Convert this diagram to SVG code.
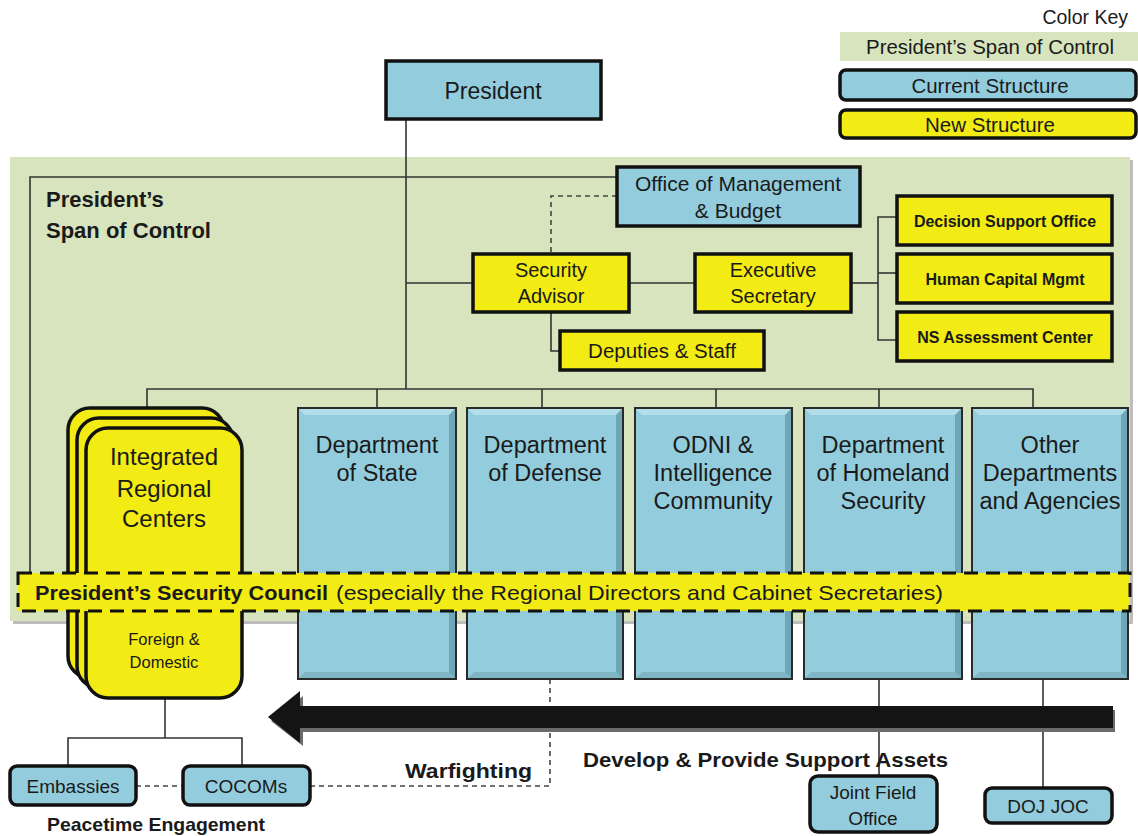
<svg xmlns="http://www.w3.org/2000/svg" width="1138" height="836" viewBox="0 0 1138 836">
<defs>
<style>
text{font-family:"Liberation Sans",Arial,sans-serif;fill:#1a1a1a}
.c{text-anchor:middle}
.b{font-weight:bold}
.blue{fill:#93CDDD;stroke:#111;stroke-width:3.5}
.yel{fill:#F2EB14;stroke:#111;stroke-width:3.5}
.ln{fill:none;stroke:#333;stroke-width:1.6}
.dash{fill:none;stroke:#444;stroke-width:1.6;stroke-dasharray:5 4}
.dept{fill:#93CDDD;stroke:#2a2a2a;stroke-width:2}
.bvl{fill:#B3DDE8}
.bvd{fill:#6FA6B5}
</style>
</defs>
<rect width="1138" height="836" fill="#fff"/>

<!-- color key -->
<g id="key">
<text x="1128" y="24" font-size="19.5" text-anchor="end">Color Key</text>
<rect x="840" y="32" width="298" height="29" fill="#D7E4BD"/>
<text x="990" y="54" font-size="20.4" class="c">President’s Span of Control</text>
<rect x="840" y="70" width="296" height="30" rx="6" class="blue" stroke-width="3"/>
<text x="990" y="93" font-size="20.5" class="c">Current Structure</text>
<rect x="840" y="110" width="296" height="28" rx="6" class="yel" stroke-width="3"/>
<text x="990" y="132" font-size="20.5" class="c">New Structure</text>
</g>

<!-- span of control panel -->
<g id="span">
<rect x="13" y="160" width="1120" height="464" fill="#BDBDBD"/>
<rect x="10" y="157" width="1120" height="464" fill="#D7E4BD"/>
<text x="46" y="207" font-size="22" class="b">President’s</text>
<text x="46" y="238" font-size="22" class="b">Span of Control</text>
</g>

<!-- connectors -->
<g id="connectors">
<polyline class="ln" points="30,572 30,177 617,177"/>
<line class="ln" x1="406" y1="119" x2="406" y2="389"/>
<line class="ln" x1="406" y1="283" x2="473" y2="283"/>
<line class="ln" x1="629" y1="283" x2="695" y2="283"/>
<line class="ln" x1="851" y1="283" x2="878" y2="283"/>
<polyline class="ln" points="897,217 878,217 878,340 897,340"/>
<line class="ln" x1="878" y1="273" x2="897" y2="273"/>
<polyline class="ln" points="551,312 551,351 560,351"/>
<polyline class="dash" points="617,196 551,196 551,254"/>
<polyline class="ln" points="147,408 147,389 1033,389 1033,408"/>
<line class="ln" x1="377" y1="389" x2="377" y2="408"/>
<line class="ln" x1="542" y1="389" x2="542" y2="408"/>
<line class="ln" x1="716" y1="389" x2="716" y2="408"/>
<line class="ln" x1="879" y1="389" x2="879" y2="408"/>
<line class="ln" x1="165" y1="697" x2="165" y2="738"/>
<polyline class="ln" points="68,766 68,738 242,738 242,766"/>
<line class="ln" x1="879" y1="679" x2="879" y2="776"/>
<line class="ln" x1="1043" y1="679" x2="1043" y2="788"/>
<line class="dash" x1="136" y1="786" x2="183" y2="786"/>
<polyline class="dash" points="310,786 550,786 550,679"/>
</g>

<g id="president">
<rect x="386" y="61" width="215" height="58" class="blue"/>
<text x="493" y="99" font-size="23" class="c">President</text>
</g>
<g id="omb">
<rect x="617" y="167" width="243" height="59" class="blue"/>
<text x="738" y="191" font-size="21" class="c">Office of Management</text>
<text x="738" y="218" font-size="21" class="c">&amp; Budget</text>
</g>
<g id="security-advisor">
<rect x="473" y="254" width="156" height="58" class="yel"/>
<text x="551" y="277" font-size="20" class="c">Security</text>
<text x="551" y="303" font-size="20" class="c">Advisor</text>
</g>
<g id="exec-sec">
<rect x="695" y="254" width="156" height="58" class="yel"/>
<text x="773" y="277" font-size="20" class="c">Executive</text>
<text x="773" y="303" font-size="20" class="c">Secretary</text>
</g>
<g id="deputies">
<rect x="560" y="331" width="204" height="39" class="yel"/>
<text x="662" y="358" font-size="20.5" class="c">Deputies &amp; Staff</text>
</g>
<g id="dso">
<rect x="897" y="196" width="215" height="49" class="yel"/>
<text x="1005" y="227" font-size="16" class="c b">Decision Support Office</text>
</g>
<g id="hcm">
<rect x="897" y="254" width="215" height="49" class="yel"/>
<text x="1005" y="285" font-size="16" class="c b">Human Capital Mgmt</text>
</g>
<g id="nsac">
<rect x="897" y="312" width="215" height="49" class="yel"/>
<text x="1005" y="343" font-size="16" class="c b">NS Assessment Center</text>
</g>

<!-- integrated regional centers -->
<g id="irc">
<rect x="68" y="408" width="156" height="270" rx="22" class="yel" stroke-width="3" fill="#E3DC12"/>
<rect x="77" y="418" width="156" height="270" rx="22" class="yel" stroke-width="3" fill="#EAE313"/>
<rect x="86" y="428" width="156" height="270" rx="22" class="yel" stroke-width="3"/>
<text x="164" y="465" font-size="24" class="c">Integrated</text>
<text x="164" y="497" font-size="24" class="c">Regional</text>
<text x="164" y="527" font-size="24" class="c">Centers</text>
<text x="164" y="645" font-size="16.5" class="c">Foreign &amp;</text>
<text x="164" y="668" font-size="16.5" class="c">Domestic</text>
</g>

<!-- departments -->
<g id="dept-state">
<rect x="298" y="408" width="158" height="271" class="dept"/>
<polygon class="bvl" points="299,409 455,409 449,415 305,415"/>
<polygon class="bvd" points="455,409 455,678 449,672 449,415"/>
<polygon class="bvd" points="299,678 455,678 449,672 305,672" opacity="0.6"/>
<text x="377" y="453" font-size="23.5" class="c">Department</text>
<text x="377" y="481" font-size="23.5" class="c">of State</text>
</g>
<g id="dept-defense">
<rect x="467" y="408" width="156" height="271" class="dept"/>
<polygon class="bvl" points="468,409 622,409 616,415 474,415"/>
<polygon class="bvd" points="622,409 622,678 616,672 616,415"/>
<polygon class="bvd" points="468,678 622,678 616,672 474,672" opacity="0.6"/>
<text x="545" y="453" font-size="23.5" class="c">Department</text>
<text x="545" y="481" font-size="23.5" class="c">of Defense</text>
</g>
<g id="odni">
<rect x="635" y="408" width="157" height="271" class="dept"/>
<polygon class="bvl" points="636,409 791,409 785,415 642,415"/>
<polygon class="bvd" points="791,409 791,678 785,672 785,415"/>
<polygon class="bvd" points="636,678 791,678 785,672 642,672" opacity="0.6"/>
<text x="713" y="453" font-size="23.5" class="c">ODNI &amp;</text>
<text x="713" y="481" font-size="23.5" class="c">Intelligence</text>
<text x="713" y="509" font-size="23.5" class="c">Community</text>
</g>
<g id="dhs">
<rect x="804" y="408" width="158" height="271" class="dept"/>
<polygon class="bvl" points="805,409 961,409 955,415 811,415"/>
<polygon class="bvd" points="961,409 961,678 955,672 955,415"/>
<polygon class="bvd" points="805,678 961,678 955,672 811,672" opacity="0.6"/>
<text x="883" y="453" font-size="23.5" class="c">Department</text>
<text x="883" y="481" font-size="23.5" class="c">of Homeland</text>
<text x="883" y="509" font-size="23.5" class="c">Security</text>
</g>
<g id="other">
<rect x="972" y="408" width="156" height="271" class="dept"/>
<polygon class="bvl" points="973,409 1127,409 1121,415 979,415"/>
<polygon class="bvd" points="1127,409 1127,678 1121,672 1121,415"/>
<polygon class="bvd" points="973,678 1127,678 1121,672 979,672" opacity="0.6"/>
<text x="1050" y="453" font-size="23.5" class="c">Other</text>
<text x="1050" y="481" font-size="23.5" class="c">Departments</text>
<text x="1050" y="509" font-size="23.5" class="c">and Agencies</text>
</g>

<!-- security council band -->
<g id="psc">
<rect x="18" y="573" width="1112" height="38" fill="#F2EB14" stroke="#111" stroke-width="3" stroke-dasharray="14 8"/>
<text x="35" y="600" font-size="21" class="b" textLength="293" lengthAdjust="spacingAndGlyphs">President’s Security Council</text>
<text x="336" y="600" font-size="21" textLength="607" lengthAdjust="spacingAndGlyphs">(especially the Regional Directors and Cabinet Secretaries)</text>
</g>

<!-- big arrow -->
<g id="support-arrow">
<polygon points="1114,708 302,708 302,694 270,719 302,744 302,730 1114,730" fill="#6b6b6b" transform="translate(1,2)"/>
<polygon points="1113,706 300,706 300,691 268,717 300,743 300,728 1113,728" fill="#141414"/>
</g>

<g id="embassies">
<rect x="10" y="766" width="126" height="39" rx="7" class="blue" stroke-width="3"/>
<text x="73" y="793" font-size="19" class="c">Embassies</text>
</g>
<g id="cocoms">
<rect x="183" y="766" width="127" height="39" rx="7" class="blue" stroke-width="3"/>
<text x="246" y="793" font-size="19" class="c">COCOMs</text>
</g>
<g id="jfo">
<rect x="810" y="776" width="127" height="56" rx="8" class="blue" stroke-width="3"/>
<text x="873" y="799" font-size="19" class="c">Joint Field</text>
<text x="873" y="825" font-size="19" class="c">Office</text>
</g>
<g id="dojjoc">
<rect x="985" y="788" width="127" height="35" rx="7" class="blue" stroke-width="3"/>
<text x="1048" y="813" font-size="19" class="c">DOJ JOC</text>
</g>

<g id="labels">
<text x="405" y="778" font-size="21" class="b" textLength="127" lengthAdjust="spacingAndGlyphs">Warfighting</text>
<text x="583" y="767" font-size="21" class="b" textLength="365" lengthAdjust="spacingAndGlyphs">Develop &amp; Provide Support Assets</text>
<text x="47" y="831" font-size="19" class="b" textLength="218" lengthAdjust="spacingAndGlyphs">Peacetime Engagement</text>
</g>
</svg>
